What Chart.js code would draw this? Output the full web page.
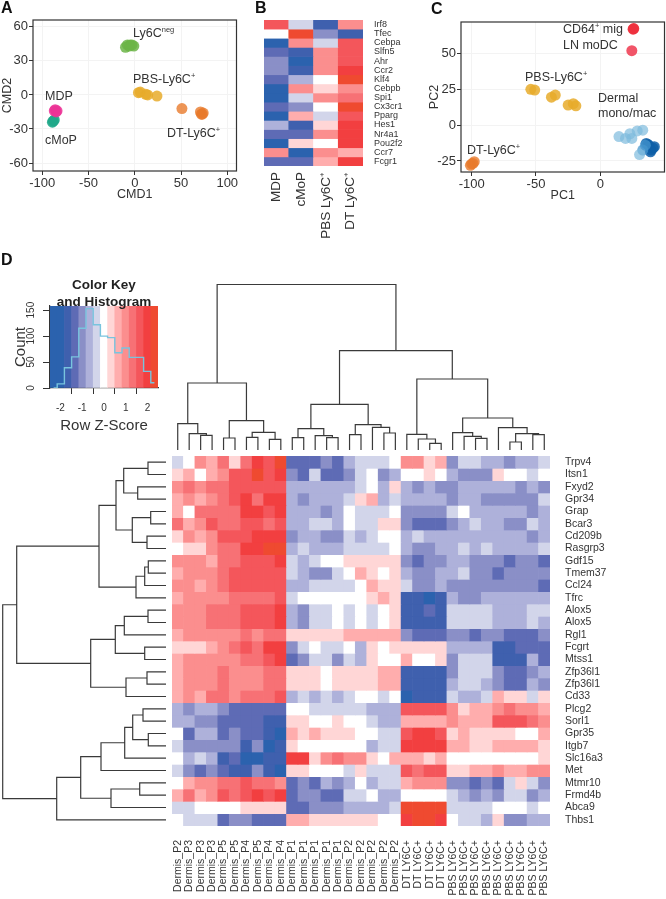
<!DOCTYPE html>
<html>
<head>
<meta charset="utf-8">
<script src="https://cdn.jsdelivr.net/npm/chart.js@4"></script>
<style>
  body { margin: 0; background: #fff; }
  #page { position: relative; width: 666px; height: 899px; overflow: hidden; font-family: "Liberation Sans", Arial, sans-serif; color: #333; }
  canvas { position: absolute; }
  .note { position: absolute; white-space: nowrap; transform: translateY(-50%); }
  .note sup { font-size: 60%; line-height: 0; }
</style>
</head>
<body>
<div id="page"></div>
<script>
// panel A - CMD scatter
const cmdGroups = ['Ly6Cneg', 'PBS', 'DT', 'MDP', 'cMoP'];
const cmdColors = ['rgba(108,181,72,0.85)', 'rgba(232,172,44,0.85)', 'rgba(233,122,44,0.8)', 'rgba(236,52,150,0.85)', 'rgba(32,168,138,0.9)'];
const cmdX = [
    [-10, -8, -6, -5, -3, -1],
    [4, 6, 12, 14, 24],
    [51, 71, 72, 73, 74],
    [-87, -86, -85, -84],
    [-89, -88, -87]
];
const cmdY = [
    [42, 44, 43, 44, 44, 43],
    [2, 2.5, 0.5, 0, -1],
    [-12, -15, -17, -17, -16],
    [-14, -13, -15, -14],
    [-24, -23, -22]
];

// panel C - PCA scatter
const pcaGroups = ['CD64', 'LN', 'PBS', 'DT', 'Light', 'Mid', 'Dark'];
const pcaColors = ['rgba(238,50,62,0.95)', 'rgba(240,76,96,0.95)', 'rgba(232,172,44,0.85)', 'rgba(233,122,44,0.8)', 'rgba(125,187,221,0.7)', 'rgba(70,150,205,0.75)', 'rgba(14,95,168,0.85)'];
const pcaX = [
    [25.5, 26],
    [24.5],
    [-54, -51, -38, -35, -25, -21, -19],
    [-101, -100, -99, -98],
    [14.5, 19.6, 24.5, 23, 28.7, 33, 30.5],
    [33, 35],
    [35.7, 37, 38, 39, 39.5, 41, 42]
];
const pcaY = [
    [67, 67.4],
    [52],
    [25, 24.5, 19.5, 21, 14, 15, 13.5],
    [-28, -27, -26.7, -25.5],
    [-8, -9.3, -9.3, -6, -4, -3.5, -20.5],
    [-17.4, -14],
    [-12.8, -13.5, -14.4, -18.6, -17.4, -16, -15]
];

// z-score bins, index 0 is level -6
const levelColors = ['#2b62ae', '#3f60ae', '#5e6bb5', '#8a8fc7', '#aeb1da', '#d2d5ea', '#ffffff',
    '#ffd6d6', '#ffadad', '#fb8e8e', '#f77175', '#f4565b', '#f23f40', '#ef4a30'];

// panel B - heatmap
const bCols = ['MDP', 'cMoP', 'PBS Ly6C⁺', 'DT Ly6C⁺'];
const bGenes = ['Irf8', 'Tfec', 'Cebpa', 'Slfn5', 'Ahr', 'Ccr2', 'Klf4', 'Cebpb', 'Spi1', 'Cx3cr1', 'Pparg', 'Hes1', 'Nr4a1', 'Pou2f2', 'Ccr7', 'Fcgr1'];
const bLevels = [
    [5, -1, -5, 3],
    [0, 7, -3, -5],
    [-6, 3, -1, 5],
    [-4, -5, 3, 5],
    [-3, -6, 3, 5],
    [-3, -5, 3, 6],
    [-4, -2, 0, 7],
    [-6, 3, 1, 3],
    [-6, -1, 3, 4],
    [-4, -3, 0, 7],
    [-6, 2, -1, 5],
    [-2, -5, 1, 6],
    [-4, -4, 3, 6],
    [-6, 1, 0, 6],
    [3, -6, 3, 2],
    [-4, -4, 2, 6]
];

// panel D - colour key and histogram
const keyCenters = [-2.31, -1.98, -1.65, -1.32, -0.99, -0.66, -0.33, 0, 0.33, 0.66, 0.99, 1.32, 1.65, 1.98, 2.31];
const keyLevels = [-6, -6, -5, -4, -3, -2, -1, 0, 1, 2, 3, 4, 5, 6, 7];
const keyCounts = [0, 8, 39, 60, 115, 153, 122, 100, 97, 68, 77, 59, 59, 32, 10];
const keyCountTicks = [0, 50, 100, 150];

// panel D - heatmap
const dCols = ['Dermis_P2', 'Dermis_P3', 'Dermis_P3', 'Dermis_P3', 'Dermis_P5', 'Dermis_P5', 'Dermis_P4', 'Dermis_P5', 'Dermis_P4', 'Dermis_P4',
    'Dermis_P1', 'Dermis_P1', 'Dermis_P1', 'Dermis_P1', 'Dermis_P1', 'Dermis_P2', 'Dermis_P2', 'Dermis_P2', 'Dermis_P2', 'Dermis_P2',
    'DT LY6C+', 'DT LY6C+', 'DT LY6C+', 'DT LY6C+',
    'PBS LY6C+', 'PBS LY6C+', 'PBS LY6C+', 'PBS LY6C+', 'PBS LY6C+', 'PBS LY6C+', 'PBS LY6C+', 'PBS LY6C+', 'PBS LY6C+'];
const dGenes = ['Trpv4', 'Itsn1', 'Fxyd2', 'Gpr34', 'Grap', 'Bcar3', 'Cd209b', 'Rasgrp3', 'Gdf15', 'Tmem37', 'Ccl24', 'Tfrc', 'Alox5', 'Alox5', 'Rgl1',
    'Fcgrt', 'Mtss1', 'Zfp36l1', 'Zfp36l1', 'Cd33', 'Plcg2', 'Sorl1', 'Gpr35', 'Itgb7', 'Slc16a3', 'Met', 'Mtmr10', 'Frmd4b', 'Abca9', 'Thbs1'];
const dLevels = [
    [-1, 0, 3, 2, 4, 1, 4, 6, 5, 7, -4, -4, -4, -3, -4, -2, -1, -1, -1, 0, 3, 3, 1, 2, -3, -1, -1, -2, -2, -3, -2, -2, -1],
    [1, 2, 0, 2, 3, 5, 5, 7, 5, 6, -3, -4, -1, -4, -4, -3, -1, 0, -3, -2, 0, 0, 1, 0, -2, -3, -3, -3, 1, 0, 0, -1, 0],
    [3, 4, 3, 4, 4, 5, 5, 5, 5, 5, -2, -2, -2, -2, -2, -2, -1, 0, -2, 1, -2, -3, -2, -3, -3, -2, -2, -2, -2, -2, -3, -2, -3],
    [2, 3, 2, 3, 4, 5, 6, 4, 6, 6, -2, -3, -2, -2, -2, -1, 1, 2, -2, -1, -2, -2, -2, -2, -3, -2, -2, -3, -3, -3, -3, -3, -1],
    [2, 0, 4, 4, 4, 4, 6, 6, 5, 6, -2, -2, -2, -3, -2, 0, -1, -1, -1, 0, -3, -3, -3, -3, -1, 0, -2, -2, -2, -2, -2, -3, -2],
    [4, 2, 3, 5, 4, 4, 5, 5, 4, 5, -2, -2, -1, -1, -2, 0, -1, -1, 1, 1, -3, -4, -4, -4, -3, -2, -1, -2, -2, -3, -3, -1, -2],
    [1, 3, 2, 3, 5, 5, 5, 6, 6, 6, -3, -2, -2, -3, -3, -1, -2, -1, 0, 0, -2, -1, -2, -2, -2, -2, -2, -2, -2, -2, -2, -3, -2],
    [0, 1, 1, 3, 4, 4, 6, 6, 7, 7, -2, -1, -2, -2, -2, -1, -1, -1, -1, 0, -2, -3, -3, -2, -2, -1, -2, -1, -2, -2, -2, -2, -1],
    [3, 3, 3, 2, 4, 4, 5, 5, 5, 6, -1, -2, -1, 0, 0, 1, 1, 1, 1, 1, -3, -4, -3, -3, -2, -2, -3, -3, -3, -4, -3, -3, -4],
    [2, 3, 3, 3, 4, 5, 5, 5, 5, 5, -1, -2, -3, -3, -1, 0, 2, 1, 0, 1, -2, -3, -3, -2, -2, -1, -3, -3, -4, -3, -3, -3, -3],
    [3, 3, 2, 3, 4, 5, 5, 5, 5, 5, -2, -2, -1, -1, -1, -1, 0, 2, 1, 1, -1, -3, -3, -2, -3, -3, -3, -3, -3, -3, -3, -3, -4],
    [2, 3, 3, 3, 3, 4, 4, 4, 4, 5, -1, 0, 0, 0, 0, 0, 0, 1, 2, 1, -5, -5, -6, -5, -2, -3, -3, -2, -2, -2, -2, -2, -2],
    [3, 3, 3, 4, 4, 4, 5, 5, 5, 6, -2, -3, -1, -1, 0, -1, 0, -1, 0, 1, -5, -5, -4, -5, -1, -1, -1, -1, -2, -2, -2, -1, -1],
    [3, 3, 3, 4, 4, 4, 5, 5, 5, 6, -2, -3, -1, -1, 0, -1, 0, -1, 0, 1, -5, -5, -5, -5, -1, -1, -1, -1, -2, -2, -2, -1, -2],
    [2, 3, 3, 3, 3, 3, 4, 3, 4, 4, 1, 1, 1, 1, 1, 2, 2, 2, 2, 2, -3, -4, -4, -4, -3, -3, -4, -3, -3, -4, -4, -4, -3],
    [1, 1, 1, 2, 3, 4, 5, 4, 6, 6, -3, -1, 0, -1, -1, 0, -2, 1, 0, 1, 1, 1, 1, 1, -2, -2, -2, -2, -5, -5, -4, -4, -4],
    [2, 3, 3, 3, 3, 3, 4, 4, 5, 6, -4, -3, -1, -1, -3, -1, -2, 1, 0, 0, 2, 0, 0, 1, -3, -1, -1, -1, -5, -5, -5, -2, -4],
    [2, 3, 3, 3, 4, 3, 3, 3, 4, 4, 1, 1, 1, 0, 1, 1, 1, 1, 2, 2, -5, -5, -5, -5, -3, -1, -1, -1, -3, -4, -4, -3, -2],
    [2, 3, 3, 3, 4, 3, 3, 3, 4, 4, 1, 1, 1, 0, 1, 1, 1, 1, 2, 2, -5, -5, -5, -5, -2, -1, -1, -2, -3, -4, -4, -2, -3],
    [2, 3, 2, 4, 4, 3, 4, 4, 4, 5, -2, -1, -2, -1, -2, -1, 0, 0, -1, 0, -6, -5, -5, -5, -1, -2, -2, -1, 2, 1, 1, -1, 1],
    [-2, -3, -2, -2, -3, -4, -4, -4, -4, -4, 0, 0, -1, -1, -1, -1, -1, -2, -2, -2, 5, 5, 5, 5, 3, 1, 2, 2, 3, 4, 3, 3, 2],
    [-2, -2, -3, -3, -4, -4, -4, -4, -5, -5, 1, 1, 0, 0, 1, 0, 0, -1, -2, -2, 2, 2, 2, 2, 3, 2, 2, 2, 5, 5, 5, 4, 3],
    [0, -4, -2, -2, -4, -3, -4, -4, -5, -6, 2, 1, 2, 1, 1, 1, 0, 0, -1, -1, 5, 6, 6, 5, 1, 2, 1, 1, 1, 1, 0, 0, 2],
    [-1, -3, -3, -3, -3, -3, -5, -3, -6, -5, 1, 0, 0, 0, 0, 0, 0, -2, -1, -1, 6, 6, 6, 6, 2, 2, 1, 1, 2, 2, 2, 2, 1],
    [0, -2, -1, -2, -5, -4, -6, -6, -5, -5, 6, 6, 1, 3, 4, 3, 3, 1, 0, 2, 2, 2, 1, 2, 0, 0, 0, 0, 0, 0, 0, 0, 1],
    [-1, -3, -4, -3, -4, -5, -5, -3, -5, -6, 1, 1, 0, 0, 0, -1, 1, -1, -1, -1, 5, 4, 5, 5, 1, 1, 2, 2, 3, 2, 2, 3, 3],
    [0, 2, 3, 3, 4, 4, 5, 4, 4, 3, -4, -3, -4, -2, -3, -2, 0, -2, -1, -1, 2, 3, 3, 3, -3, -3, -4, -3, -4, -1, 1, -1, -3],
    [2, 4, 2, 3, 5, 4, 5, 6, 5, 6, -4, -3, -3, -4, -4, -1, -1, 0, -2, -2, 0, 0, 0, 0, -1, -2, -3, -2, -3, -1, -1, -3, -2],
    [-1, -1, 0, 0, 0, 0, 1, 1, 1, 1, -4, -4, -3, -3, -3, -2, -2, -2, -2, -1, 7, 7, 7, 7, -1, -1, -1, -1, 0, 0, 0, -1, 0],
    [0, -1, -1, -1, -4, -3, -3, -4, -4, -4, 2, 2, 1, 1, 1, 1, 1, 1, 0, 0, 6, 7, 7, 6, 0, -1, -1, -2, 1, -3, -3, -2, -2]
];

// dendrograms: [posA, heightA, posB, heightB, mergeHeight]
const topMerges = [
    [2.5, 0, 3.5, 0, 14.7], [1.5, 0, 3, 14.7, 16.3], [0.5, 0, 2.25, 16.3, 26.3],
    [4.5, 0, 5.5, 0, 12], [6.5, 0, 7.5, 0, 12.7], [8.5, 0, 9.5, 0, 10.7], [7, 12.7, 9, 10.7, 17.7], [5, 12, 8, 17.7, 29.3],
    [1.375, 26.3, 6.5, 29.3, 67],
    [10.5, 0, 11.5, 0, 12.3], [13.5, 0, 14.5, 0, 12.3], [12.5, 0, 14, 12.3, 14.3], [11, 12.3, 13.25, 14.3, 21.3],
    [15.5, 0, 16.5, 0, 15.3], [18.5, 0, 19.5, 0, 17], [17.5, 0, 19, 17, 22.7], [16, 15.3, 18.25, 22.7, 25.3],
    [12.125, 21.3, 17.125, 25.3, 45.7],
    [22.5, 0, 23.5, 0, 6.7], [21.5, 0, 23, 6.7, 11], [20.5, 0, 22.25, 11, 15.7],
    [26.5, 0, 27.5, 0, 11.7], [25.5, 0, 27, 11.7, 13.7], [24.5, 0, 26.25, 13.7, 17.3],
    [29.5, 0, 30.5, 0, 8], [31.5, 0, 32.5, 0, 15.3], [30, 8, 32, 15.3, 16.3], [28.5, 0, 31, 16.3, 22.3],
    [25.375, 17.3, 29.75, 22.3, 32], [21.375, 15.7, 27.56, 32, 71],
    [14.625, 45.7, 24.47, 71, 99.3], [3.94, 67, 19.55, 99.3, 165.7]
];
const leftMerges = [
    [0.5, 0, 1.5, 0, 18], [2.5, 0, 3.5, 0, 28.3], [1, 18, 3, 28.3, 42.3],
    [4.5, 0, 5.5, 0, 15.3], [6.5, 0, 7.5, 0, 19], [5, 15.3, 7, 19, 33.7], [2, 42.3, 6, 33.7, 50],
    [8.5, 0, 9.5, 0, 17.7], [9, 17.7, 10.5, 0, 21.3], [9.75, 21.3, 11.5, 0, 30], [4, 50, 10.625, 30, 67],
    [12.5, 0, 13.5, 0, 18], [13, 18, 14.5, 0, 41.7], [15.5, 0, 16.5, 0, 21.3], [13.75, 41.7, 16, 21.3, 50.7],
    [17.5, 0, 18.5, 0, 19], [18, 19, 19.5, 0, 40], [14.875, 50.7, 18.75, 40, 75.3],
    [7.31, 67, 16.81, 75.3, 149.3],
    [20.5, 0, 21.5, 0, 23], [22.5, 0, 23.5, 0, 17.7], [21, 23, 23, 17.7, 33.3], [22, 33.3, 24.5, 0, 41.3], [23.25, 41.3, 25.5, 0, 65],
    [26.5, 0, 27.5, 0, 26.3], [27, 26.3, 28.5, 0, 55], [24.375, 65, 27.75, 55, 85.3], [26.06, 85.3, 29.5, 0, 109.3],
    [12.06, 149.3, 27.78, 109.3, 163.3]
];

const page = document.getElementById('page');
const TEXT = '#333';
const FONT = '"Liberation Sans", Arial, sans-serif';
Chart.defaults.font.family = FONT;
Chart.defaults.color = TEXT;
Chart.defaults.animation = false;
Chart.defaults.responsive = false;
Chart.defaults.events = [];
Chart.defaults.plugins.legend.display = false;
Chart.defaults.plugins.tooltip.enabled = false;

function addCanvas(left, top, w, h) {
    let c = document.createElement('canvas');
    c.width = w;
    c.height = h;
    c.style.left = left + 'px';
    c.style.top = top + 'px';
    page.append(c);
    return c.getContext('2d');
}

function note(html, x, y, size, extra) {
    let d = document.createElement('div');
    d.className = 'note';
    d.innerHTML = html;
    d.style.left = x + 'px';
    d.style.top = y + 'px';
    d.style.fontSize = size + 'px';
    if (extra) Object.assign(d.style, extra);
    page.append(d);
}

// keep the plot box where it is in the figure whatever the labels measure
const fitW = w => s => { s.width = w; s.paddingTop = 0; s.paddingBottom = 0; };
const fitH = h => s => { s.height = h; s.paddingLeft = 0; s.paddingRight = 0; };

const frame = {
    id: 'frame',
    afterDraw(chart) {
        let a = chart.chartArea, c = chart.ctx;
        c.save();
        c.strokeStyle = '#333';
        c.lineWidth = 1.2;
        c.strokeRect(a.left, a.top, a.right - a.left, a.bottom - a.top);
        c.restore();
    }
};

function scatterChart(box, groups, colors, xs, ys, xOpt, yOpt, xTitle, yTitle) {
    new Chart(addCanvas(box.left, box.top, box.w, box.h), {
        type: 'scatter',
        data: {
            datasets: groups.map((g, i) => ({
                label: g,
                data: xs[i].map((x, j) => ({ x: x, y: ys[i][j] })),
                backgroundColor: colors[i],
                borderWidth: 0,
                pointRadius: 5.5
            }))
        },
        options: {
            layout: { padding: { top: box.mt, right: box.mr } },
            scales: {
                x: {
                    min: xOpt.min, max: xOpt.max,
                    afterFit: fitH(box.mb),
                    grid: { color: '#f3f3f3', tickColor: '#333', tickLength: 4 },
                    border: { display: false },
                    ticks: { stepSize: xOpt.step, includeBounds: false, padding: 1, maxRotation: 0, font: { size: 13 } },
                    title: { display: true, text: xTitle, padding: 0, font: { size: 12.5 } }
                },
                y: {
                    min: yOpt.min, max: yOpt.max,
                    afterFit: fitW(box.ml),
                    grid: { color: '#f3f3f3', tickColor: '#333', tickLength: 4 },
                    border: { display: false },
                    ticks: { stepSize: yOpt.step, includeBounds: false, padding: 1, font: { size: 13 } },
                    title: { display: true, text: yTitle, padding: 0, font: { size: 12.5 } }
                }
            }
        },
        plugins: [frame]
    });
}

function heatmap(box, cols, genes, levels, xFont, yFont, xPad, yPad) {
    new Chart(addCanvas(box.left, box.top, box.w, box.h), {
        type: 'bar',
        data: {
            labels: cols,
            datasets: genes.map((g, r) => ({
                label: g,
                data: levels[r].map(() => 1),
                backgroundColor: levels[r].map(v => levelColors[v + 6]),
                barPercentage: 1,
                categoryPercentage: 1,
                borderWidth: 0,
                yAxisID: 'y'
            }))
        },
        options: {
            layout: { padding: { top: box.mt } },
            scales: {
                x: {
                    stacked: true,
                    afterFit: fitH(box.mb),
                    grid: { display: false, drawTicks: false },
                    border: { display: false },
                    ticks: { autoSkip: false, minRotation: 90, maxRotation: 90, padding: xPad, font: { size: xFont } }
                },
                y: { stacked: true, min: 0, max: genes.length, reverse: true, display: false },
                genes: {
                    type: 'category',
                    labels: genes,
                    position: 'right',
                    offset: true,
                    afterFit: fitW(box.mr),
                    grid: { display: false, drawTicks: false },
                    border: { display: false },
                    ticks: { autoSkip: false, padding: yPad, font: { size: yFont } }
                }
            }
        }
    });
}

// flatten the merges into one broken line
function dendroLine(merges, horizontal) {
    let pts = [];
    for (let m of merges) {
        let path = [[m[0], m[1]], [m[0], m[4]], [m[2], m[4]], [m[2], m[3]]];
        for (let p of path) pts.push(horizontal ? { x: p[1], y: p[0] } : { x: p[0], y: p[1] });
        pts.push({ x: NaN, y: NaN });
    }
    return pts;
}

function dendro(box, merges, horizontal, posMax, hMax) {
    let posScale = { type: 'linear', min: 0, max: posMax, display: false, reverse: horizontal };
    let hScale = { type: 'linear', min: 0, max: hMax, display: false, reverse: horizontal };
    new Chart(addCanvas(box.left, box.top, box.w, box.h), {
        type: 'scatter',
        data: {
            datasets: [{
                data: dendroLine(merges, horizontal),
                showLine: true,
                spanGaps: false,
                pointRadius: 0,
                borderColor: '#3a3a3a',
                borderWidth: 1.2
            }]
        },
        options: {
            layout: { padding: 0 },
            scales: horizontal ? { x: hScale, y: posScale } : { x: posScale, y: hScale }
        }
    });
}

// A
scatterChart({ left: 0, top: 12, w: 242, h: 190, ml: 33, mr: 3.5, mt: 8, mb: 31 },
    cmdGroups, cmdColors, cmdX, cmdY,
    { min: -110, max: 110, step: 50 }, { min: -67, max: 66, step: 30 }, 'CMD1', 'CMD2');

// C, wider than the page so the right edge of the box lands on it
scatterChart({ left: 427, top: 14, w: 243, h: 189, ml: 34, mr: 1, mt: 8, mb: 31 },
    pcaGroups, pcaColors, pcaX, pcaY,
    { min: -108.3, max: 49.9, step: 50 }, { min: -32.7, max: 72, step: 25 }, 'PC1', 'PC2');

// B
heatmap({ left: 264, top: 14, w: 156, h: 226, mt: 6, mb: 74, mr: 57 }, bCols, bGenes, bLevels, 13.5, 9, 6, 11);

// D heatmap and its two trees
heatmap({ left: 172, top: 450, w: 494, h: 449, mt: 6, mb: 73, mr: 116 }, dCols, dGenes, dLevels, 10.5, 10.5, 14, 15);
dendro({ left: 172, top: 284, w: 378, h: 166 }, topMerges, false, 33, 166);
dendro({ left: 0, top: 456, w: 166, h: 370 }, leftMerges, true, 30, 166);

// D colour key
new Chart(addCanvas(12, 295, 163, 140), {
    type: 'bar',
    data: {
        datasets: [
            {
                type: 'line',
                data: keyCenters.map((x, i) => ({ x: x, y: keyCounts[i] })),
                stepped: 'middle',
                borderColor: '#78c4de',
                borderWidth: 1.4,
                pointRadius: 0
            },
            {
                type: 'bar',
                data: keyCenters.map(x => ({ x: x, y: 158 })),
                backgroundColor: keyLevels.map(v => levelColors[v + 6]),
                barPercentage: 1,
                categoryPercentage: 1,
                borderWidth: 0
            }
        ]
    },
    options: {
        layout: { padding: { top: 11, right: 17 } },
        scales: {
            x: {
                type: 'linear',
                offset: false,
                min: -2.475, max: 2.475,
                afterFit: fitH(47),
                grid: { display: true, tickColor: '#333', tickLength: 6, drawOnChartArea: false },
                border: { color: '#333', width: 1.2 },
                ticks: { stepSize: 1, includeBounds: false, padding: 8, maxRotation: 0, font: { size: 10 } },
                title: { display: true, text: 'Row Z-Score', padding: 0, font: { size: 15 } }
            },
            y: {
                min: 0, max: 158,
                afterFit: fitW(38),
                afterBuildTicks: s => { s.ticks = keyCountTicks.map(v => ({ value: v })); },
                grid: { tickColor: '#333', tickLength: 7, drawOnChartArea: false },
                border: { color: '#333', width: 1.2 },
                ticks: { display: false },
                title: { display: true, text: 'Count', padding: 0, font: { size: 15 } }
            }
        }
    },
    plugins: [{
        id: 'countTicks',
        afterDraw(chart) {
            let c = chart.ctx, s = chart.scales.y;
            c.save();
            c.fillStyle = TEXT;
            c.font = '10px ' + FONT;
            c.textAlign = 'center';
            c.textBaseline = 'middle';
            for (let v of keyCountTicks) {
                c.save();
                c.translate(19, s.getPixelForValue(v));
                c.rotate(-Math.PI / 2);
                c.fillText(String(v), 0, 0);
                c.restore();
            }
            c.restore();
        }
    }]
});

// panel letters
const bold = { fontWeight: 'bold', color: '#111' };
note('A', 1, 8, 16, bold);
note('B', 255, 8, 16, bold);
note('C', 431, 9, 16, bold);
note('D', 1, 260, 16, bold);

// cluster labels
note('Ly6C<sup>neg</sup>', 133, 33, 12.5);
note('PBS-Ly6C<sup>+</sup>', 133, 79, 12.5);
note('MDP', 45, 96, 12.5);
note('cMoP', 45, 140, 12.5);
note('DT-Ly6C<sup>+</sup>', 167, 133, 12.5);
note('CD64<sup>+</sup> mig', 563, 29, 12.5);
note('LN moDC', 563, 45, 12.5);
note('PBS-Ly6C<sup>+</sup>', 525, 77, 12.5);
note('Dermal', 598, 98, 12.5);
note('mono/mac', 598, 113, 12.5);
note('DT-Ly6C<sup>+</sup>', 467, 150, 12.5);

// key title
const keyTitle = { fontWeight: 'bold', transform: 'translate(-50%, -50%)', color: '#222' };
note('Color Key', 104, 284, 13.5, keyTitle);
note('and Histogram', 104, 301, 13.5, keyTitle);
</script>
</body>
</html>
